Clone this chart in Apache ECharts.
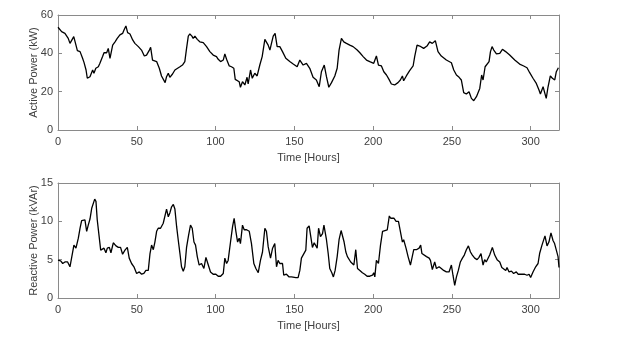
<!DOCTYPE html>
<html>
<head>
<meta charset="utf-8">
<script src="https://cdn.jsdelivr.net/npm/echarts@6/dist/echarts.min.js"></script>
<style>html,body{margin:0;padding:0;background:#fff;}#c{width:621px;height:342px;}</style>
</head>
<body>
<div id="c"></div>
<script>
const xTickLabels = [0, 50, 100, 150, 200, 250, 300];
const activeTicks = [0, 20, 40, 60];
const reactiveTicks = [0, 5, 10, 15];

const activeHours = [0,2.3,4.4,6.5,7.6,8.7,10,11.4,12.3,14,15.6,16.5,17.8,18.6,19.2,20.3,22,22.8,24,25.6,26.6,28.3,29.2,30.9,31.9,33,34,34.7,36.2,37.6,39.3,41,41.9,43.1,44.2,45.7,47.4,48.8,51,53,54.8,56.2,58,58.8,60,60.9,62.6,64.3,65.7,66.8,68,68.9,70,71,72.7,74.2,75.3,77.4,79,80.5,81.6,82.7,83.7,85,85.8,86.9,88.4,90,92.2,94.3,96.4,98.5,100.6,101.7,103.2,104.9,105.9,107,108.7,110.1,111.6,112.5,113.7,115,115.8,117.1,118.6,120,120.7,122.2,123.3,124.9,126.4,128.1,129.6,131.3,132.3,133.4,134.5,135.5,136.6,137.8,139.1,140.8,142.5,144.6,147.1,149.3,151.8,153.5,155.6,157.7,159.8,161.9,164,165.8,167.2,169,170.4,171.9,173.6,175.7,177.2,178.4,179.9,181.4,183.1,185.2,187.3,188.4,189.9,191.6,193.7,195.8,197.9,200.4,202.1,203.4,205.3,206.8,208.5,210.1,211.6,213.7,215.8,217.3,218.6,219.4,221.1,223.2,225.4,226.4,227.9,229.6,232.1,234.2,235.9,237.6,239.5,241.2,243.3,246.5,249.7,251.2,252.9,254.6,256,257.5,259.2,260.9,262.4,263.9,265.6,267.7,268.9,269.8,271.1,272.3,273.6,274.5,275.5,276.6,278.3,280.4,282.1,284.1,286.7,289.9,293,295.6,297.7,299.4,301.5,303.6,305.3,306.2,307.9,308.9,309.9,311,312.5,313.8,315.3,316.3,317.6];
const activeKW = [53.6,51.3,50.4,47.8,45.2,45.2,48.7,44.3,41.4,40.9,37.4,35.3,31.3,27,26.4,27.8,31.3,29.6,32.2,33,34.8,38.3,40.3,40.3,42.6,37.4,37.4,44.3,46,47.8,49.6,50.4,52.2,54.3,50.8,50.1,47,45.2,43.5,41.7,38.6,39.1,41.7,43.1,36.5,35.7,35.7,32.2,28.2,27.5,24.7,27.8,29.6,27.5,29.2,31.3,30.4,33,33.9,35.7,42.6,49,50.1,49,47.8,49,47.3,46,45.6,43.5,40.9,39.1,38.3,36.9,35.7,36.5,39.7,36.9,33.4,33,32.2,26.4,26.1,25.2,22.3,25.2,23.5,27.5,24,31.3,27,29.6,28.2,33.9,38.3,47.3,47.8,44.3,41.7,45.2,49,50.4,43.5,43.5,40.9,37.4,35.7,34.4,33,36.5,33.9,34.8,32.2,27.5,26.1,22.6,30.4,33.9,27.8,22.3,24.7,28.2,32.2,41.7,47.8,46,45.2,44.3,43.5,44.3,41.7,40.3,38.3,36.5,35.7,34.8,38.6,33.9,33.4,30.4,28.7,26.4,24,23.5,24.7,26.1,28.2,25.7,28.2,31,33.4,38.3,44.3,43.8,42.6,43.8,46,45.2,46.6,40.9,38.6,36.5,35.1,31.3,28.7,27.5,26.1,19.5,18.8,20,16.5,15.3,17.4,21.7,28.7,26.1,33,32.2,35.7,40.9,43.5,41.7,39.7,40,42.1,40.9,39.1,36.5,34.4,33.4,32.5,29.9,27,24.3,20.9,18.8,22.6,19.5,16.5,22.3,28.2,27,26.1,30.4,32.5];

const reactiveHours = [0,1.7,3,4.4,6.1,7.6,8.7,10.1,11.4,12.9,14,15,16.1,17.1,18.2,19.2,20.3,21.4,22.4,23.3,24.1,24.9,25.8,27.1,28.3,29.2,30.4,31.3,32.6,33.6,35.1,36.8,38.3,39.7,41,42.5,44,45.2,46.7,48.2,49.9,51.6,53.1,54.5,55.8,57.3,58.4,59.4,60.5,61.5,62.6,63.6,65.1,66.8,67.9,68.9,70,71,72.1,73.2,74.2,75.3,76.3,77.4,78.4,79.5,80.5,81.6,82.9,84.1,85.2,86.3,87.3,88.4,89.6,91.1,92.6,93.9,95.1,96.8,98.5,100.2,101.7,103.2,104.9,105.9,107,108,109.5,110.8,111.8,112.9,114,115,115.8,117.1,118.2,119.7,121.4,122.8,124.3,125.6,127.1,128.5,129.8,131.3,132.3,133.4,134.9,136.2,137.6,138.7,139.7,140.8,142.5,143.3,145,146.7,148.2,149.3,151,152.4,153.5,154.5,155.6,157.3,158.1,159.4,160.5,161.5,162.6,163.6,164.5,165.4,166.6,167.9,168.8,169.6,170.4,171.5,172.5,173.8,174.8,175.9,177.2,178.4,179.7,180.6,181.6,182.7,183.7,184.8,185.8,186.9,187.8,189,190.1,191.6,193.2,194.7,196.2,197.9,199.6,200.4,201.1,202.1,203.4,204.7,206,207.5,209,210.3,211.2,212,213.3,214.6,216.1,217.3,218.6,219.4,220.9,222.2,223.7,224.9,225.8,227.5,229.2,230.2,231,232.2,233.9,235.6,236.4,237.6,239.1,240.2,241.9,243.3,244.8,246.5,248.2,249.7,250.7,251.8,252.9,254.1,255.4,256.7,257.9,259.2,260.5,261.8,263,264.5,266,267.2,268.5,269.8,270.8,271.8,273,274,275.7,277.2,278.7,280.4,281.7,282.9,284.2,285,286.3,287.8,289.2,290.9,292,294.1,296.2,297.7,299,300,301.5,303.2,304.7,305.7,307.2,308.3,309.1,310.4,311.6,312.9,314.2,315.2,316.3,317.4,318];
const reactiveKVAr = [4.94,4.85,4.5,4.7,4.7,4.07,4.15,6.9,6.5,7.8,9.1,10.1,10,10.2,8.7,9.5,10.3,11.7,11.9,12.9,12.6,10.2,10.3,6.25,6.03,6.5,5.9,6.5,6.6,5.9,7.2,6.8,6.6,6.6,5.7,6.25,6.6,5.2,4.5,4.07,3.2,3.4,3.1,3.2,3.6,3.6,5.8,6.9,6.3,7.3,8.7,9.1,9.1,9.75,10,11.6,10.6,11.1,11.9,12.2,11.6,9.3,7.6,5.8,4.07,3.5,4.07,6.6,8.2,9.5,9.1,7.3,6.9,5.4,4.3,4.5,3.85,5.3,4.5,3.4,3.1,3.1,2.84,2.84,3.2,5.2,4.5,4.9,7.3,9.3,10.4,8.7,7.3,7.8,7.1,9.5,8.9,8.9,8.7,7.1,4.5,3.85,3.3,4.9,6,9.1,8.7,6.7,5.2,6.5,7.1,4.07,4.9,4.5,4.5,2.97,3.1,2.75,2.75,2.5,2.67,2.67,3.6,5.2,5.4,6.25,9.1,9.4,9.3,6.6,7.2,7,6.5,9.1,8,8.4,9.5,9.75,7.6,5.8,3.85,3.3,2.75,3.6,5.4,7.6,8.8,8.9,7.3,6,5.4,5.6,4.7,4.9,4.3,6.3,3.85,3.6,3.3,3.1,2.84,2.84,2.97,3.3,2.75,4.9,4.5,6.9,8.7,8.8,8.9,10.7,10.4,10.2,10.4,10,10,9.75,7.3,7.6,6.5,5.4,4.3,4.07,6.3,6.3,6.5,6.9,5.8,5.8,5.4,5.2,4.9,3.7,4.7,3.85,4.07,3.85,3.6,3.4,3.4,4.3,2.97,1.66,2.75,3.6,4.7,5.2,5.6,6.3,6.8,6,5.6,5.2,5,5.3,5.8,4.3,5,4.7,4.9,5.6,6.6,5.6,5,4.7,3.98,4.07,3.6,3.98,3.4,3.5,3.2,3.4,3.1,3.1,3.1,2.97,3.1,2.67,3.4,4.07,4.5,5.8,6.9,6.8,8.1,6.8,7.3,8.5,7.5,7.1,7.3,5.4,3.98];

const X_MAX = 318;
const textColor = '#404040';
const lineColor = '#8a8a8a';
const font = 'Liberation Sans, Arial, sans-serif';

function xAx(grid, pos, showLabels) {
  return {
    type: 'value', gridIndex: grid, position: pos, min: 0, max: X_MAX, interval: 50,
    name: showLabels ? 'Time [Hours]' : '', nameLocation: 'middle', nameGap: 22,
    nameMoveOverlap: false,
    nameTextStyle: { color: textColor, fontSize: 11, fontFamily: font },
    axisLine: { show: true, onZero: false, lineStyle: { color: lineColor, width: 1 } },
    axisTick: { show: true, inside: true, length: 4, lineStyle: { color: lineColor } },
    axisLabel: {
      show: showLabels, color: textColor, fontSize: 11, fontFamily: font, margin: 6,
      showMaxLabel: false,
      formatter: v => xTickLabels.indexOf(v) >= 0 ? String(v) : ''
    },
    splitLine: { show: false }
  };
}
function yAx(grid, pos, max, interval, name, ticks, showLabels) {
  return {
    type: 'value', gridIndex: grid, position: pos, min: 0, max: max, interval: interval,
    name: showLabels ? name : '', nameLocation: 'middle', nameGap: 19, nameRotate: 90,
    nameMoveOverlap: false,
    nameTextStyle: { color: textColor, fontSize: 11, fontFamily: font },
    axisLine: { show: true, onZero: false, lineStyle: { color: lineColor, width: 1 } },
    axisTick: { show: true, inside: true, length: 4, lineStyle: { color: lineColor } },
    axisLabel: {
      show: showLabels, color: textColor, fontSize: 11, fontFamily: font, margin: 5,
      formatter: v => ticks.indexOf(v) >= 0 ? String(v) : ''
    },
    splitLine: { show: false }
  };
}

const chart = echarts.init(document.getElementById('c'), null, { renderer: 'canvas' });
chart.setOption({
  animation: false,
  backgroundColor: '#ffffff',
  grid: [
    { left: 58, top: 15, width: 501, height: 115 },
    { left: 58, top: 183, width: 501, height: 115 }
  ],
  xAxis: [
    xAx(0, 'bottom', true), xAx(0, 'top', false),
    xAx(1, 'bottom', true), xAx(1, 'top', false)
  ],
  yAxis: [
    yAx(0, 'left', 60, 20, 'Active Power (kW)', activeTicks, true),
    yAx(0, 'right', 60, 20, '', activeTicks, false),
    yAx(1, 'left', 15, 5, 'Reactive Power (kVAr)', reactiveTicks, true),
    yAx(1, 'right', 15, 5, '', reactiveTicks, false)
  ],
  series: [
    {
      type: 'line', xAxisIndex: 0, yAxisIndex: 0, showSymbol: false,
      lineStyle: { color: '#000', width: 1.3 },
      data: activeHours.map((h, i) => [h, activeKW[i]])
    },
    {
      type: 'line', xAxisIndex: 2, yAxisIndex: 2, showSymbol: false,
      lineStyle: { color: '#000', width: 1.3 },
      data: reactiveHours.map((h, i) => [h, reactiveKVAr[i]])
    }
  ]
});
</script>
</body>
</html>
